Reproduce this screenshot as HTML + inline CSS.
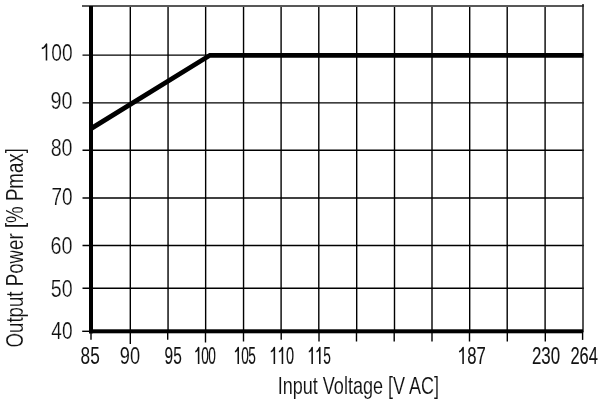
<!DOCTYPE html>
<html><head><meta charset="utf-8"><style>
html,body{margin:0;padding:0;background:#fff;width:600px;height:402px;overflow:hidden}
svg{display:block;will-change:transform}
text{font-family:"Liberation Sans",sans-serif;fill:#111;stroke:#fff;stroke-width:0.1px}
</style></head><body>
<svg width="600" height="402" viewBox="0 0 600 402">
<rect width="600" height="402" fill="#fff"/>
<line x1="130.3" y1="6.0" x2="130.3" y2="331.3" stroke="#000" stroke-width="1.4"/>
<line x1="168.05" y1="6.0" x2="168.05" y2="331.3" stroke="#000" stroke-width="1.4"/>
<line x1="205.65" y1="6.0" x2="205.65" y2="331.3" stroke="#000" stroke-width="1.4"/>
<line x1="243.55" y1="6.0" x2="243.55" y2="331.3" stroke="#000" stroke-width="1.4"/>
<line x1="281.1" y1="6.0" x2="281.1" y2="331.3" stroke="#000" stroke-width="1.4"/>
<line x1="318.8" y1="6.0" x2="318.8" y2="331.3" stroke="#000" stroke-width="1.4"/>
<line x1="356.7" y1="6.0" x2="356.7" y2="331.3" stroke="#000" stroke-width="1.4"/>
<line x1="394.5" y1="6.0" x2="394.5" y2="331.3" stroke="#000" stroke-width="1.4"/>
<line x1="432.0" y1="6.0" x2="432.0" y2="331.3" stroke="#000" stroke-width="1.4"/>
<line x1="469.7" y1="6.0" x2="469.7" y2="331.3" stroke="#000" stroke-width="1.4"/>
<line x1="507.2" y1="6.0" x2="507.2" y2="331.3" stroke="#000" stroke-width="1.4"/>
<line x1="545.1" y1="6.0" x2="545.1" y2="331.3" stroke="#000" stroke-width="1.4"/>
<line x1="82.5" y1="55.1" x2="583.8" y2="55.1" stroke="#000" stroke-width="1.4"/>
<line x1="82.5" y1="102.85" x2="583.8" y2="102.85" stroke="#000" stroke-width="1.4"/>
<line x1="82.5" y1="150.3" x2="583.8" y2="150.3" stroke="#000" stroke-width="1.4"/>
<line x1="82.5" y1="197.95" x2="583.8" y2="197.95" stroke="#000" stroke-width="1.4"/>
<line x1="82.5" y1="245.45" x2="583.8" y2="245.45" stroke="#000" stroke-width="1.4"/>
<line x1="82.5" y1="288.3" x2="583.8" y2="288.3" stroke="#000" stroke-width="1.4"/>
<line x1="82" y1="6.0" x2="583.8" y2="6.0" stroke="#585858" stroke-width="2"/>
<line x1="583" y1="4" x2="583" y2="332.3" stroke="#1a1a1a" stroke-width="1.5"/>
<line x1="82.2" y1="331.3" x2="90" y2="331.3" stroke="#000" stroke-width="1.4"/>
<line x1="91" y1="331.3" x2="91" y2="339.8" stroke="#000" stroke-width="1.4"/>
<line x1="130.3" y1="331.3" x2="130.3" y2="344" stroke="#000" stroke-width="1.4"/>
<line x1="167.7" y1="331.3" x2="167.7" y2="339.8" stroke="#000" stroke-width="1.4"/>
<line x1="205.5" y1="331.3" x2="205.5" y2="342.5" stroke="#000" stroke-width="1.4"/>
<line x1="243.5" y1="331.3" x2="243.5" y2="341.5" stroke="#000" stroke-width="1.4"/>
<line x1="281.2" y1="331.3" x2="281.2" y2="339.8" stroke="#000" stroke-width="1.4"/>
<line x1="319" y1="331.3" x2="319" y2="341.5" stroke="#000" stroke-width="1.4"/>
<line x1="356.5" y1="331.3" x2="356.5" y2="341.5" stroke="#000" stroke-width="1.4"/>
<line x1="394.2" y1="331.3" x2="394.2" y2="341.5" stroke="#000" stroke-width="1.4"/>
<line x1="432" y1="331.3" x2="432" y2="341.5" stroke="#000" stroke-width="1.4"/>
<line x1="469.5" y1="331.3" x2="469.5" y2="341.5" stroke="#000" stroke-width="1.4"/>
<line x1="507.3" y1="331.3" x2="507.3" y2="341.6" stroke="#000" stroke-width="1.4"/>
<line x1="545.3" y1="331.3" x2="545.3" y2="341.6" stroke="#000" stroke-width="1.4"/>
<line x1="582.6" y1="331.3" x2="582.6" y2="339.9" stroke="#000" stroke-width="1.4"/>
<rect x="89" y="6" width="4" height="327.3" fill="#000"/>
<rect x="89" y="329.3" width="494" height="4" fill="#000"/>
<polyline points="91,128.65 209.9,55.3 583.3,55.3" fill="none" stroke="#000" stroke-width="4.85" stroke-linejoin="miter"/>
<text transform="translate(80.55,364.00) scale(0.7182,1)" font-size="24.0" style="stroke:#111;stroke-width:0.048px">85</text>
<text transform="translate(119.75,364.00) scale(0.7592,1)" font-size="24.0" style="stroke:#fff;stroke-width:0.072px">90</text>
<text transform="translate(164.58,364.00) scale(0.6433,1)" font-size="24.0" style="stroke:#111;stroke-width:0.120px">95</text>
<text transform="translate(194.41,364.00) scale(0.5700,1)" font-size="24.0" style="stroke:#111;stroke-width:0.120px;letter-spacing:-1.143px"> 00</text>
<text transform="translate(234.06,364.00) scale(0.5700,1)" font-size="24.0" style="stroke:#111;stroke-width:0.120px;letter-spacing:-0.889px"> 05</text>
<text transform="translate(269.91,364.00) scale(0.6058,1)" font-size="24.0" style="stroke:#111;stroke-width:0.120px">  0</text>
<text transform="translate(307.96,364.00) scale(0.5723,1)" font-size="24.0" style="stroke:#111;stroke-width:0.120px">  5</text>
<text transform="translate(457.98,364.00) scale(0.6958,1)" font-size="24.0" style="stroke:#111;stroke-width:0.120px"> 87</text>
<text transform="translate(531.90,364.00) scale(0.7032,1)" font-size="24.0" style="stroke:#111;stroke-width:0.095px">230</text>
<text transform="translate(570.42,364.00) scale(0.6884,1)" font-size="24.0" style="stroke:#111;stroke-width:0.120px">264</text>
<text transform="translate(40.63,60.60) scale(0.7971,1)" font-size="24.0" style="stroke:#fff;stroke-width:0.173px"> 00</text>
<text transform="translate(50.57,109.40) scale(0.8241,1)" font-size="24.0" style="stroke:#fff;stroke-width:0.238px">90</text>
<text transform="translate(50.64,155.60) scale(0.8214,1)" font-size="24.0" style="stroke:#fff;stroke-width:0.232px">80</text>
<text transform="translate(51.53,205.10) scale(0.7869,1)" font-size="24.0" style="stroke:#fff;stroke-width:0.147px">70</text>
<text transform="translate(50.49,253.80) scale(0.8273,1)" font-size="24.0" style="stroke:#fff;stroke-width:0.246px">60</text>
<text transform="translate(50.71,296.60) scale(0.8187,1)" font-size="24.0" style="stroke:#fff;stroke-width:0.226px">50</text>
<text transform="translate(51.36,339.10) scale(0.7934,1)" font-size="24.0" style="stroke:#fff;stroke-width:0.163px">40</text>
<text transform="translate(277.68,393.7) scale(0.7369,1)" font-size="24.5">Input Voltage [V AC]</text>
<text transform="translate(23,347.54) rotate(-90) scale(0.7630,1)" font-size="24.5">Output Power [% Pmax]</text>
<g fill="none" stroke="#111" stroke-width="1.55" stroke-linejoin="round"><path d="M198.60,364.00 V347.49 Q196.92,351.57 195.25,351.78" />
<path d="M238.25,364.00 V347.49 Q236.57,351.57 234.90,351.78" />
<path d="M274.36,364.00 V347.49 Q272.58,351.57 270.80,351.78" />
<path d="M282.44,364.00 V347.49 Q280.66,351.57 278.89,351.78" />
<path d="M312.16,364.00 V347.49 Q310.48,351.57 308.80,351.78" />
<path d="M319.80,364.00 V347.49 Q318.12,351.57 316.44,351.78" />
<path d="M463.09,364.00 V347.49 Q461.04,351.57 459.00,351.78" />
<path d="M46.48,60.60 V44.09 Q44.14,48.17 41.80,48.38" /></g>
</svg>
</body></html>
